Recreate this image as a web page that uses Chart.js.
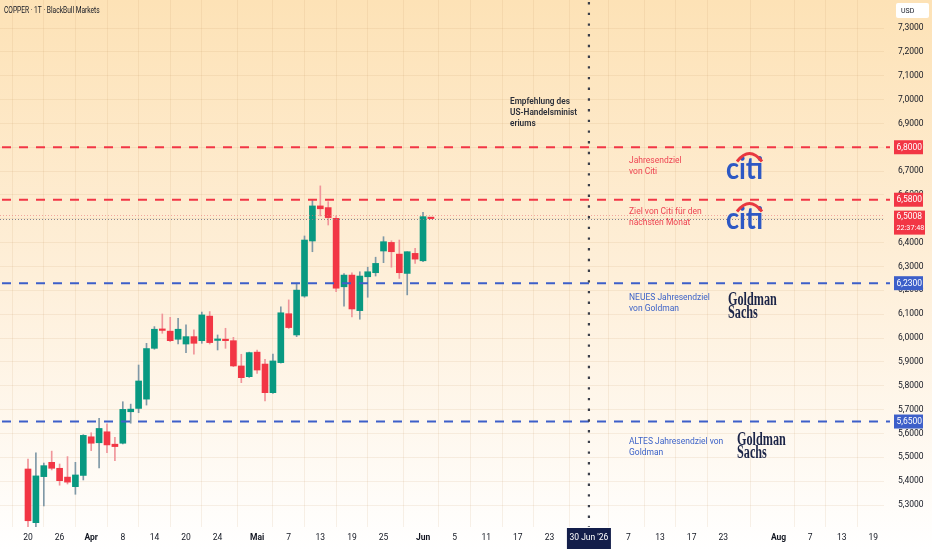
<!DOCTYPE html>
<html>
<head>
<meta charset="utf-8">
<script src="https://cdn.jsdelivr.net/npm/chart.js@4.4.1/dist/chart.umd.min.js"></script>
<style>
  html, body { margin: 0; padding: 0; background: #fff; }
  #wrap { width: 932px; height: 550px; position: relative; }
</style>
</head>
<body>
<div id="wrap"><canvas id="chart"></canvas></div>
<script>
// daily candles, index 0 = 20 Mar, one step per trading day
const opens  = [5.451, 5.226, 5.419, 5.479, 5.454, 5.417, 5.377, 5.424, 5.586, 5.561,
                5.607, 5.555, 5.559, 5.691, 5.705, 5.744, 5.957, 6.036, 6.029, 5.995,
                5.975, 6.006, 5.989, 6.092, 5.990, 5.995, 5.989, 5.883, 5.838, 5.941,
                5.891, 5.771, 5.897, 6.102, 6.013, 6.176, 6.407, 6.554, 6.547, 6.502,
                6.215, 6.264, 6.115, 6.257, 6.274, 6.365, 6.401, 6.352, 6.271, 6.355,
                6.324, 6.504];
const highs  = [5.493, 5.519, 5.476, 5.526, 5.472, 5.503, 5.479, 5.595, 5.603, 5.663,
                5.640, 5.584, 5.733, 5.723, 5.887, 5.978, 6.048, 6.101, 6.087, 6.083,
                6.055, 6.034, 6.109, 6.111, 6.013, 6.041, 6.003, 5.932, 5.941, 5.950,
                5.911, 5.933, 6.131, 6.160, 6.230, 6.428, 6.579, 6.638, 6.572, 6.512,
                6.270, 6.274, 6.278, 6.297, 6.339, 6.425, 6.408, 6.411, 6.362, 6.376,
                6.527, 6.506];
const lows   = [5.203, 5.203, 5.296, 5.447, 5.383, 5.388, 5.345, 5.405, 5.528, 5.456,
                5.519, 5.486, 5.556, 5.643, 5.687, 5.719, 5.953, 6.020, 5.985, 5.975,
                5.939, 5.932, 5.978, 5.975, 5.950, 5.957, 5.880, 5.813, 5.835, 5.852,
                5.736, 5.768, 5.895, 6.040, 6.006, 6.171, 6.362, 6.512, 6.474, 6.194,
                6.134, 6.089, 6.079, 6.171, 6.260, 6.316, 6.297, 6.250, 6.181, 6.313,
                6.320, 6.499];
const closes = [5.234, 5.422, 5.465, 5.454, 5.402, 5.396, 5.426, 5.592, 5.559, 5.621,
                5.552, 5.545, 5.701, 5.702, 5.820, 5.956, 6.037, 6.032, 5.989, 6.037,
                6.006, 5.978, 6.097, 5.981, 5.994, 5.989, 5.883, 5.834, 5.939, 5.866,
                5.771, 5.904, 6.106, 6.044, 6.201, 6.411, 6.554, 6.542, 6.505, 6.209,
                6.264, 6.122, 6.260, 6.278, 6.313, 6.404, 6.362, 6.274, 6.362, 6.331,
                6.509, 6.5008];

// time axis labels (trading-day index -> text)
const tickIdx  = [0, 4, 8, 12, 16, 20, 24, 29, 33, 37, 41, 45, 50, 54, 58, 62, 66, 71, 76, 80, 84, 88, 95, 99, 103, 107];
const tickText = ['20', '26', 'Apr', '8', '14', '20', '24', 'Mai', '7', '13', '19', '25', 'Jun',
                  '5', '11', '17', '23', "30 Jun '26", '7', '13', '17', '23', 'Aug', '7', '13', '19'];
const monthTicks = ['Apr', 'Mai', 'Jun', 'Aug'];
const markerIdx = 71;
const markerText = "30 Jun '26";

// price axis
const priceTicks = [5.3, 5.4, 5.5, 5.6, 5.7, 5.8, 5.9, 6.0, 6.1, 6.2, 6.3, 6.4, 6.5,
                    6.6, 6.7, 6.8, 6.9, 7.0, 7.1, 7.2, 7.3];

// target levels
const levels      = [6.80, 6.58, 6.23, 5.65];
const levelColors = ['#f23645', '#f23645', '#3d5fc9', '#3d5fc9'];
const lastPrice = 6.5008;
const lastTime = '22:37:48';
const refPrice = 6.517;

const notes = [
  { lines: ['Jahresendziel', 'von Citi'], x: 629, y: 161, color: '#ee4452' },
  { lines: ['Ziel von Citi für den', 'nächsten Monat'], x: 629, y: 212, color: '#ee4452' },
  { lines: ['NEUES Jahresendziel', 'von Goldman'], x: 629, y: 298, color: '#3d63c8' },
  { lines: ['ALTES Jahresendziel von', 'Goldman'], x: 629, y: 442, color: '#3d63c8' }
];
const newsLines = ['Empfehlung des', 'US-Handelsminist', 'eriums'];

const UP = '#089981', DOWN = '#f23645';
const UP_WICK = '#7f98a6', DOWN_WICK = '#f0959a';

const fmt = v => v.toFixed(4).replace('.', ',');
const isUp = i => closes[i] >= opens[i];

// text squeezed horizontally, like the narrow UI font of the original
function narrowText(c, text, x, y, sx) {
  c.save();
  c.translate(x, y);
  c.scale(sx, 1);
  c.fillText(text, 0, 0);
  c.restore();
}

const overlay = {
  id: 'overlay',
  beforeDraw(chart) {
    const c = chart.ctx;
    const g = c.createLinearGradient(0, 0, 0, chart.height);
    g.addColorStop(0, '#fde2b6');
    g.addColorStop(0.5, '#feefd9');
    g.addColorStop(1, '#ffffff');
    c.save();
    c.fillStyle = g;
    c.fillRect(0, 0, chart.width, chart.height);
    c.restore();
  },
  afterDatasetsDraw(chart) {
    const c = chart.ctx, a = chart.chartArea;
    const y = chart.scales.y, x = chart.scales.x;
    c.save();
    // last price lines
    c.lineWidth = 1;
    c.setLineDash([1, 2]);
    c.strokeStyle = 'rgba(232,120,120,0.6)';
    c.beginPath();
    c.moveTo(a.left, Math.round(y.getPixelForValue(refPrice)) + 0.5);
    c.lineTo(a.right, Math.round(y.getPixelForValue(refPrice)) + 0.5);
    c.stroke();
    c.strokeStyle = '#80838e';
    c.beginPath();
    c.moveTo(a.left, Math.round(y.getPixelForValue(lastPrice)) + 0.5);
    c.lineTo(a.right, Math.round(y.getPixelForValue(lastPrice)) + 0.5);
    c.stroke();
    // level lines
    c.lineWidth = 2;
    c.setLineDash([9, 8]);
    levels.forEach((lv, i) => {
      const py = y.getPixelForValue(lv);
      c.strokeStyle = levelColors[i];
      c.beginPath();
      c.moveTo(a.left + 2, py);
      c.lineTo(a.right + 6, py);
      c.stroke();
    });
    // vertical dotted marker
    const mx = x.getPixelForValue(markerIdx);
    c.strokeStyle = '#3b3f4a';
    c.lineWidth = 2.2;
    c.setLineDash([2.4, 8.3]);
    c.beginPath();
    c.moveTo(mx, 2);
    c.lineTo(mx, a.bottom);
    c.stroke();
    c.restore();
  },
  afterDraw(chart) {
    const c = chart.ctx, a = chart.chartArea;
    const y = chart.scales.y, x = chart.scales.x;
    c.save();
    c.textBaseline = 'middle';
    c.textAlign = 'left';

    // header
    c.fillStyle = '#131722';
    c.font = "8.5px Roboto";
    narrowText(c, 'COPPER · 1T · BlackBull Markets', 4, 11, 0.78);

    // news note
    c.fillStyle = '#2a2e39';
    c.font = "600 9px Roboto";
    newsLines.forEach((t, i) => narrowText(c, t, 510, 102 + i * 10.8, 0.92));

    // target notes
    c.font = "8.5px Roboto";
    notes.forEach(n => {
      c.fillStyle = n.color;
      n.lines.forEach((t, i) => c.fillText(t, n.x, n.y + i * 10.5));
    });

    // citi marks
    c.textBaseline = 'alphabetic';
    [178.5, 228.5].forEach(base => {
      c.fillStyle = '#2d58c4';
      c.font = "bold 30px Lato";
      narrowText(c, 'citi', 726, base, 0.9);
      c.strokeStyle = '#e8383f';
      c.lineWidth = 3;
      c.setLineDash([]);
      c.beginPath();
      c.moveTo(737, base - 17);
      c.quadraticCurveTo(749.5, base - 33, 762, base - 17);
      c.stroke();
    });

    // Goldman Sachs marks
    [[728, 305], [737, 445]].forEach(([gx, gy]) => {
      c.save();
      c.translate(gx, gy);
      c.scale(0.66, 1);
      c.fillStyle = '#1c2548';
      c.font = "bold 18.5px 'Liberation Serif'";
      c.fillText('Goldman', 0, 0);
      c.fillText('Sachs', 0, 12.8);
      c.restore();
    });

    // price axis unit box
    c.fillStyle = '#ffffff';
    c.beginPath();
    c.roundRect(896, 3, 33, 15, 2);
    c.fill();
    c.fillStyle = '#131722';
    c.font = "7px Roboto";
    c.textBaseline = 'middle';
    c.fillText('USD', 901, 11);

    // level price tags
    c.font = "8.5px Roboto";
    levels.forEach((lv, i) => {
      const py = y.getPixelForValue(lv);
      c.fillStyle = levelColors[i];
      c.fillRect(894, py - 7, 29, 14);
      c.fillStyle = '#ffffff';
      c.fillText(fmt(lv), 896.5, py + 0.5);
    });
    const lp = y.getPixelForValue(lastPrice);
    c.fillStyle = '#f23645';
    c.fillRect(894, lp - 8, 31, 24);
    c.fillStyle = '#ffffff';
    c.fillText(fmt(lastPrice), 896.5, lp - 1.5);
    c.font = "8px Roboto";
    narrowText(c, lastTime, 896.5, lp + 9, 0.9);

    // date marker box
    const mx = x.getPixelForValue(markerIdx);
    c.fillStyle = '#131e4a';
    c.fillRect(mx - 22, a.bottom + 1, 44, 21);
    c.fillStyle = '#ffffff';
    c.font = "8.5px Roboto";
    c.textAlign = 'center';
    c.fillText(markerText, mx, a.bottom + 11);
    c.restore();
  }
};

new Chart(document.getElementById('chart'), {
  type: 'bar',
  data: {
    datasets: [
      {
        label: 'body',
        data: opens.map((o, i) => ({ x: i, y: [o, closes[i]] })),
        backgroundColor: ctx => isUp(ctx.dataIndex) ? UP : DOWN,
        barThickness: 6,
        minBarLength: 1.5,
        grouped: false
      },
      {
        label: 'wick',
        data: lows.map((l, i) => ({ x: i, y: [l, highs[i]] })),
        backgroundColor: ctx => isUp(ctx.dataIndex) ? UP_WICK : DOWN_WICK,
        barThickness: 1,
        grouped: false
      }
    ]
  },
  options: {
    responsive: true,
    maintainAspectRatio: false,
    animation: false,
    layout: { padding: 0 },
    plugins: {
      legend: { display: false },
      tooltip: { enabled: false }
    },
    scales: {
      x: {
        type: 'linear',
        min: -3.544,
        max: 108.35,
        offset: false,
        afterBuildTicks: s => { s.ticks = tickIdx.map(v => ({ value: v })); },
        afterFit: s => { s.height = 23; s.paddingLeft = 0; s.paddingRight = 0; },
        border: { display: false },
        grid: { color: 'rgba(190,150,90,0.13)', drawTicks: false },
        ticks: {
          autoSkip: false,
          maxRotation: 0,
          padding: 6,
          color: '#131722',
          font: ctx => ({ family: 'Roboto', size: 8.5,
                          weight: ctx.tick && monthTicks.includes(tickText[ctx.index]) ? 'bold' : 'normal' }),
          callback: (v, i) => tickText[i] === markerText ? '' : tickText[i]
        }
      },
      y: {
        position: 'right',
        min: 5.2078,
        max: 7.4174,
        afterBuildTicks: s => { s.ticks = priceTicks.map(v => ({ value: v })); },
        afterFit: s => { s.width = 48; s.paddingTop = 0; s.paddingBottom = 0; },
        border: { display: false },
        grid: { color: 'rgba(190,150,90,0.13)', drawTicks: false },
        ticks: {
          padding: 14,
          color: '#131722',
          font: { family: 'Roboto', size: 8.5 },
          callback: v => fmt(v)
        }
      }
    }
  },
  plugins: [overlay]
});
</script>
</body>
</html>
